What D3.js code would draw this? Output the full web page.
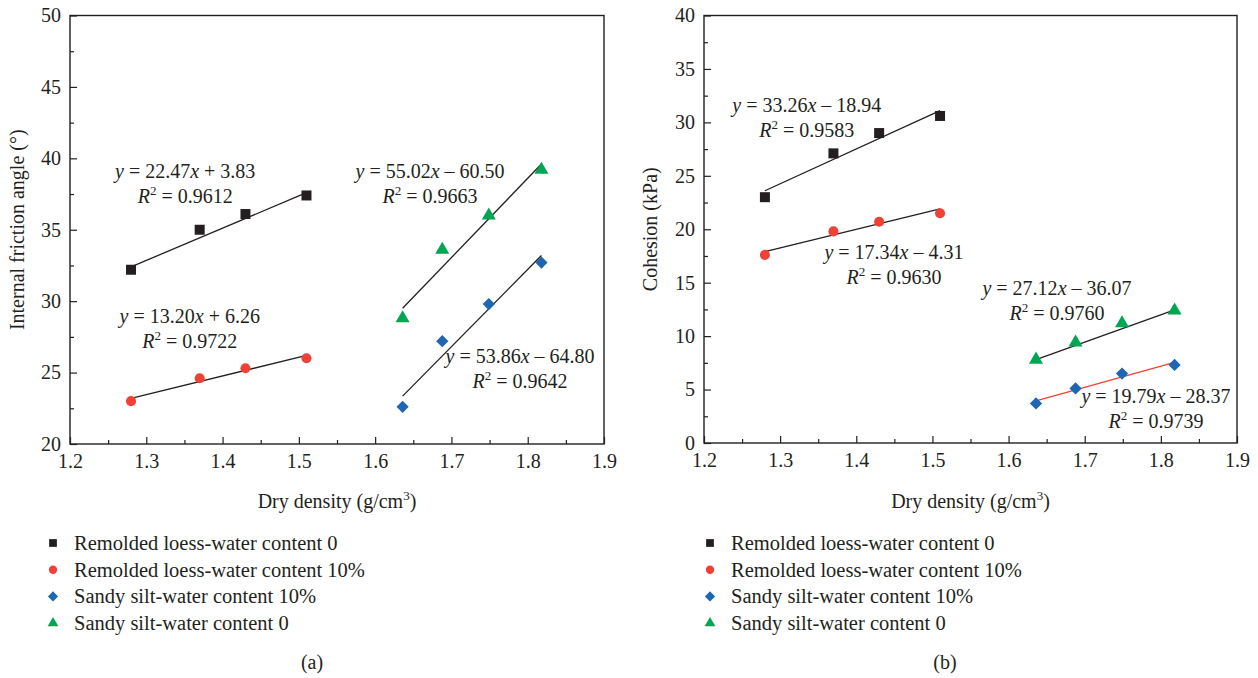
<!DOCTYPE html>
<html>
<head>
<meta charset="utf-8">
<script src="https://cdn.jsdelivr.net/npm/d3@7"></script>
<style>
  body { margin: 0; background: #fff; }
  svg text { font-family: "Liberation Serif", "Times New Roman", serif; fill: #231f20; }
</style>
</head>
<body>
<svg id="chart" width="1258" height="678"></svg>
<script>
// dry density of the samples (g/cm3)
const densityLoess = [1.28, 1.37, 1.43, 1.51];
const densitySilt = [1.636, 1.688, 1.749, 1.818];

// (a) internal friction angle (deg)
const frictionLoess0 = [32.2, 35.0, 36.1, 37.4];
const frictionLoess10 = [23.0, 24.6, 25.3, 26.0];
const frictionSilt10 = [22.6, 27.2, 29.8, 32.7];
const frictionSilt0 = [28.8, 33.6, 36.0, 39.2];

// (b) cohesion (kPa)
const cohesionLoess0 = [23.0, 27.1, 29.0, 30.6];
const cohesionLoess10 = [17.6, 19.8, 20.7, 21.5];
const cohesionSilt10 = [3.7, 5.1, 6.5, 7.3];
const cohesionSilt0 = [7.8, 9.4, 11.2, 12.4];

// fitted line values at the first and last density, as drawn
const fitFriction = [[32.4, 37.6], [23.2, 26.2], [23.35, 33.2], [29.5, 39.6]];
const fitCohesion = [[23.6, 31.1], [17.9, 21.9], [3.95, 7.55], [7.8, 12.45]];

// regression labels
const eqFriction = [["22.47", "+ 3.83", "0.9612"], ["13.20", "+ 6.26", "0.9722"], ["53.86", "\u2013 64.80", "0.9642"], ["55.02", "\u2013 60.50", "0.9663"]];
const eqCohesion = [["33.26", "\u2013 18.94", "0.9583"], ["17.34", "\u2013 4.31", "0.9630"], ["19.79", "\u2013 28.37", "0.9739"], ["27.12", "\u2013 36.07", "0.9760"]];

const seriesNames = ["Remolded loess-water content 0", "Remolded loess-water content 10%", "Sandy silt-water content 10%", "Sandy silt-water content 0"];
const xTicks = [1.2, 1.3, 1.4, 1.5, 1.6, 1.7, 1.8, 1.9];

const colors = ["#231f20", "#ef4136", "#1c66b3", "#00a651"];
// diamond = square turned 45 degrees
const symbols = [d3.symbolSquare, d3.symbolCircle, d3.symbolSquare, d3.symbolTriangle];
const turn = [0, 0, 45, 0];
const symSize = [100, 80, 75, 85];
const legSize = [60, 55, 52, 50];
const ink = "#231f20";

const svg = d3.select("#chart");

function superscript(sel, base, sup, tail) {
  sel.append("tspan").text(base);
  sel.append("tspan").attr("dy", -8).attr("font-size", 13).text(sup);
  sel.append("tspan").attr("dy", 8).text(tail);
}

function drawPanel(cfg) {
  const g = svg.append("g");
  const x = d3.scaleLinear().domain([1.2, 1.9]).range([cfg.left, cfg.right]);
  const y = d3.scaleLinear().domain(cfg.yDomain).range([cfg.bottom, cfg.top]);

  // minor ticks
  g.append("g").attr("transform", `translate(0,${cfg.bottom})`)
    .call(d3.axisBottom(x).tickValues(d3.range(1.25, 1.9, 0.1)).tickSize(-4).tickFormat(""))
    .call(a => a.select(".domain").remove());
  g.append("g").attr("transform", `translate(${cfg.left},0)`)
    .call(d3.axisLeft(y).tickValues(cfg.yMinor).tickSize(-4).tickFormat(""))
    .call(a => a.select(".domain").remove());

  // major ticks
  g.append("g").attr("transform", `translate(0,${cfg.bottom})`)
    .call(d3.axisBottom(x).tickValues(xTicks).tickSize(-7).tickPadding(10).tickFormat(d3.format(".1f")))
    .call(a => a.select(".domain").remove())
    .call(a => a.selectAll("text").attr("font-size", 20).attr("font-family", "Liberation Serif").attr("fill", ink));
  g.append("g").attr("transform", `translate(${cfg.left},0)`)
    .call(d3.axisLeft(y).tickValues(cfg.yTicks).tickSize(-7).tickPadding(9))
    .call(a => a.select(".domain").remove())
    .call(a => a.selectAll("text").attr("font-size", 20).attr("font-family", "Liberation Serif").attr("fill", ink));
  g.selectAll(".tick line").attr("stroke", ink).attr("stroke-width", 1.2);

  g.append("rect")
    .attr("x", cfg.left).attr("y", cfg.top)
    .attr("width", cfg.right - cfg.left).attr("height", cfg.bottom - cfg.top)
    .attr("fill", "none").attr("stroke", ink).attr("stroke-width", 1.4);

  const xs = [densityLoess, densityLoess, densitySilt, densitySilt];

  // fitted lines
  cfg.fits.forEach((f, i) => {
    const xv = xs[i];
    g.append("line")
      .attr("x1", x(xv[0])).attr("y1", y(f[0]))
      .attr("x2", x(xv[xv.length - 1])).attr("y2", y(f[1]))
      .attr("stroke", cfg.fitColors[i]).attr("stroke-width", 1.3);
  });

  // points
  cfg.series.forEach((vals, i) => {
    g.selectAll(null).data(vals).join("path")
      .attr("d", d3.symbol(symbols[i], symSize[i]))
      .attr("transform", (d, j) => `translate(${x(xs[i][j])},${y(d)}) rotate(${turn[i]})`)
      .attr("fill", colors[i]);
  });

  // equations
  cfg.eqs.forEach((e, i) => {
    const p = cfg.eqPos[i];
    const t = g.append("text").attr("x", x(p[0])).attr("y", y(p[1]))
      .attr("text-anchor", "middle").attr("font-size", 20);
    t.append("tspan").attr("font-style", "italic").text("y");
    t.append("tspan").text(" = " + e[0]);
    t.append("tspan").attr("font-style", "italic").text("x");
    t.append("tspan").text(" " + e[1]);
    const r = g.append("text").attr("x", x(p[0])).attr("y", y(p[1]) + 25)
      .attr("text-anchor", "middle").attr("font-size", 20);
    r.append("tspan").attr("font-style", "italic").text("R");
    r.append("tspan").attr("dy", -8).attr("font-size", 13).text("2");
    r.append("tspan").attr("dy", 8).text(" = " + e[2]);
  });

  // axis titles
  const xt = g.append("text").attr("x", (cfg.left + cfg.right) / 2).attr("y", 508)
    .attr("text-anchor", "middle").attr("font-size", 20);
  superscript(xt, "Dry density (g/cm", "3", ")");
  g.append("text")
    .attr("transform", `translate(${cfg.yTitleX},${(cfg.top + cfg.bottom) / 2}) rotate(-90)`)
    .attr("text-anchor", "middle").attr("font-size", 20).text(cfg.yTitle);

  // legend
  seriesNames.forEach((n, i) => {
    const ly = 543 + i * 26.7;
    g.append("path").attr("d", d3.symbol(symbols[i], legSize[i]))
      .attr("transform", `translate(${cfg.legX},${ly}) rotate(${turn[i]})`).attr("fill", colors[i]);
    g.append("text").attr("x", cfg.legX + 21).attr("y", ly + 7)
      .attr("font-size", 20.5).text(n);
  });

  g.append("text").attr("x", cfg.capX).attr("y", 669)
    .attr("text-anchor", "middle").attr("font-size", 20).text(cfg.caption);
}

drawPanel({
  left: 70, right: 604, top: 15.5, bottom: 444,
  yDomain: [20, 50], yTicks: d3.range(20, 51, 5), yMinor: d3.range(22.5, 50, 5),
  series: [frictionLoess0, frictionLoess10, frictionSilt10, frictionSilt0],
  fits: fitFriction, fitColors: [ink, ink, ink, ink],
  eqs: eqFriction,
  eqPos: [[1.351, 38.6], [1.357, 28.46], [1.790, 25.66], [1.672, 38.6]],
  yTitle: "Internal friction angle (\u00b0)", yTitleX: 24,
  legX: 53, capX: 312, caption: "(a)"
});

drawPanel({
  left: 704, right: 1237, top: 15.5, bottom: 443,
  yDomain: [0, 40], yTicks: d3.range(0, 41, 5), yMinor: d3.range(2.5, 40, 5),
  series: [cohesionLoess0, cohesionLoess10, cohesionSilt10, cohesionSilt0],
  fits: fitCohesion, fitColors: [ink, ink, "#ef4136", ink],
  eqs: eqCohesion,
  eqPos: [[1.335, 30.93], [1.4495, 17.2], [1.7936, 3.74], [1.6636, 13.83]],
  yTitle: "Cohesion (kPa)", yTitleX: 657,
  legX: 710, capX: 945, caption: "(b)"
});
</script>
</body>
</html>
